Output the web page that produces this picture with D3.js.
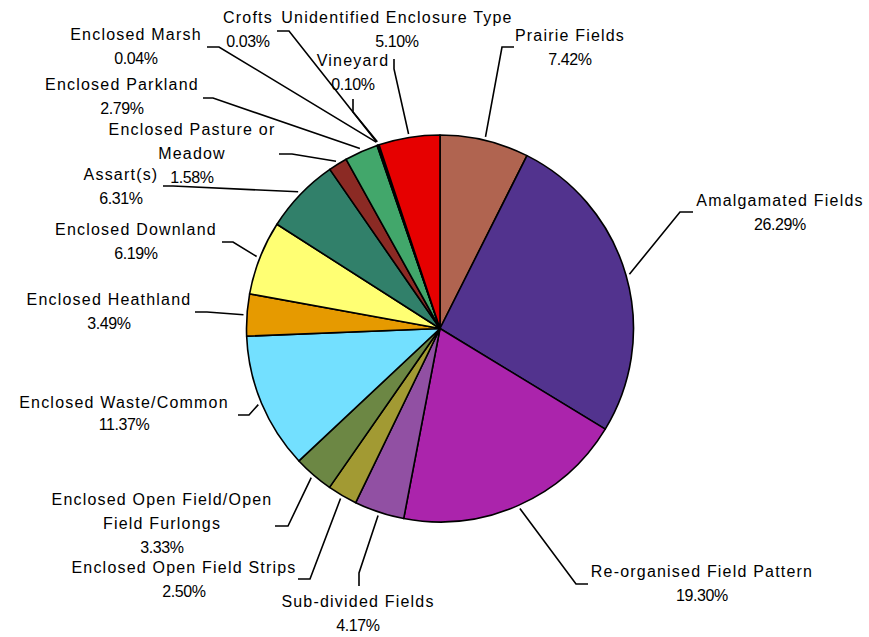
<!DOCTYPE html>
<html>
<head>
<meta charset="utf-8">
<script src="https://cdn.jsdelivr.net/npm/d3@7"></script>
<style>
  html, body { margin: 0; padding: 0; background: #fff; }
  svg text { font-family: "Liberation Sans", Arial, sans-serif; fill: #000; }
</style>
</head>
<body>
<svg id="chart" width="869" height="637"></svg>
<script>
// ---- data ----
const categories = [
  "Prairie Fields", "Amalgamated Fields", "Re-organised Field Pattern", "Sub-divided Fields",
  "Enclosed Open Field Strips", "Enclosed Open Field/Open Field Furlongs", "Enclosed Waste/Common",
  "Enclosed Heathland", "Enclosed Downland", "Assart(s)", "Enclosed Pasture or Meadow",
  "Enclosed Parkland", "Enclosed Marsh", "Crofts", "Vineyard", "Unidentified Enclosure Type"
];
const values = [7.42, 26.29, 19.30, 4.17, 2.50, 3.33, 11.37, 3.49, 6.19, 6.31, 1.58, 2.79, 0.04, 0.03, 0.10, 5.10];
const percentLabels = ["7.42%", "26.29%", "19.30%", "4.17%", "2.50%", "3.33%", "11.37%", "3.49%", "6.19%", "6.31%", "1.58%", "2.79%", "0.04%", "0.03%", "0.10%", "5.10%"];
const nameLines = [
  ["Prairie Fields"], ["Amalgamated Fields"], ["Re-organised Field Pattern"], ["Sub-divided Fields"],
  ["Enclosed Open Field Strips"], ["Enclosed Open Field/Open", "Field Furlongs"], ["Enclosed Waste/Common"],
  ["Enclosed Heathland"], ["Enclosed Downland"], ["Assart(s)"], ["Enclosed Pasture or", "Meadow"],
  ["Enclosed Parkland"], ["Enclosed Marsh"], ["Crofts"], ["Vineyard"], ["Unidentified Enclosure Type"]
];

// ---- styles / layout (kept apart from the data) ----
const colors = ["#B06450", "#52338E", "#AB24AC", "#9150A3", "#A29A33", "#6C8744", "#73E0FF",
  "#E69A00", "#FFFF73", "#31806A", "#8B2A24", "#42A76B", "#1F3A6E", "#5A2A00", "#7A1F5C", "#E60000"];
// label anchor (centre x, first baseline y), leader elbow and leader end
const labelLayout = [
  {cx: 570, y: 41,  elbow: [502, 47],  end: [514, 47]},
  {cx: 780, y: 206, elbow: [680, 212], end: [693, 212]},
  {cx: 702, y: 577, elbow: [576, 584], end: [588, 584]},
  {cx: 358, y: 607, elbow: [359, 573], end: [359, 586]},
  {cx: 184, y: 573, elbow: [310, 579], end: [298, 579]},
  {cx: 162, y: 505, elbow: [288, 526], end: [275, 526]},
  {cx: 124, y: 408, elbow: [249, 415], end: [238, 415], lh: 22},
  {cx: 109, y: 305, elbow: [207, 312], end: [195, 312]},
  {cx: 136, y: 235, elbow: [233, 242], end: [222, 242]},
  {cx: 121, y: 180, elbow: [173, 186], end: [163, 186]},
  {cx: 192, y: 135, elbow: [292, 154], end: [279, 154]},
  {cx: 122, y: 90,  elbow: [213, 98],  end: [203, 98]},
  {cx: 136, y: 40,  elbow: [219, 47],  end: [207, 47]},
  {cx: 248, y: 23,  elbow: [289, 31],  end: [277, 31]},
  {cx: 353, y: 66,  elbow: [353, 112], end: [353, 99]},
  {cx: 397, y: 23,  elbow: [394, 69],  end: [394, 59]}
];

const cx = 440, cy = 328.5, R = 193.5;
const svg = d3.select("#chart");
const g = svg.append("g").attr("transform", `translate(${cx},${cy})`);

const pie = d3.pie().sort(null).value(d => d);
const arcs = pie(values);
const arc = d3.arc().innerRadius(0).outerRadius(R);
const leaderArc = d3.arc().innerRadius(R + 3.5).outerRadius(R + 3.5);

g.selectAll("path.slice").data(arcs).join("path")
  .attr("class", "slice")
  .attr("d", arc)
  .attr("fill", (d, i) => colors[i])
  .attr("stroke", "#000")
  .attr("stroke-width", 1.6)
  .attr("stroke-linejoin", "round");

// leader lines
const line = d3.line();
svg.selectAll("path.leader").data(arcs).join("path")
  .attr("class", "leader")
  .attr("d", (d, i) => {
    const c = leaderArc.centroid(d);
    const L = labelLayout[i];
    return line([[c[0] + cx, c[1] + cy], L.elbow, L.end]);
  })
  .attr("fill", "none")
  .attr("stroke", "#000")
  .attr("stroke-width", 1.6);

// labels
const labels = svg.selectAll("g.label").data(arcs).join("g").attr("class", "label");
labels.each(function(d, i) {
  const L = labelLayout[i];
  const lh = L.lh || 24;
  const sel = d3.select(this);
  const lines = nameLines[i];
  lines.forEach((t, k) => {
    sel.append("text")
      .attr("x", L.cx).attr("y", L.y + k * lh)
      .attr("text-anchor", "middle")
      .attr("font-size", 16)
      .attr("letter-spacing", 1.2)
      .text(t);
  });
  sel.append("text")
    .attr("x", L.cx).attr("y", L.y + lines.length * lh)
    .attr("text-anchor", "middle")
    .attr("font-size", 16)
    .attr("letter-spacing", -0.4)
    .text(percentLabels[i]);
});
</script>
</body>
</html>
